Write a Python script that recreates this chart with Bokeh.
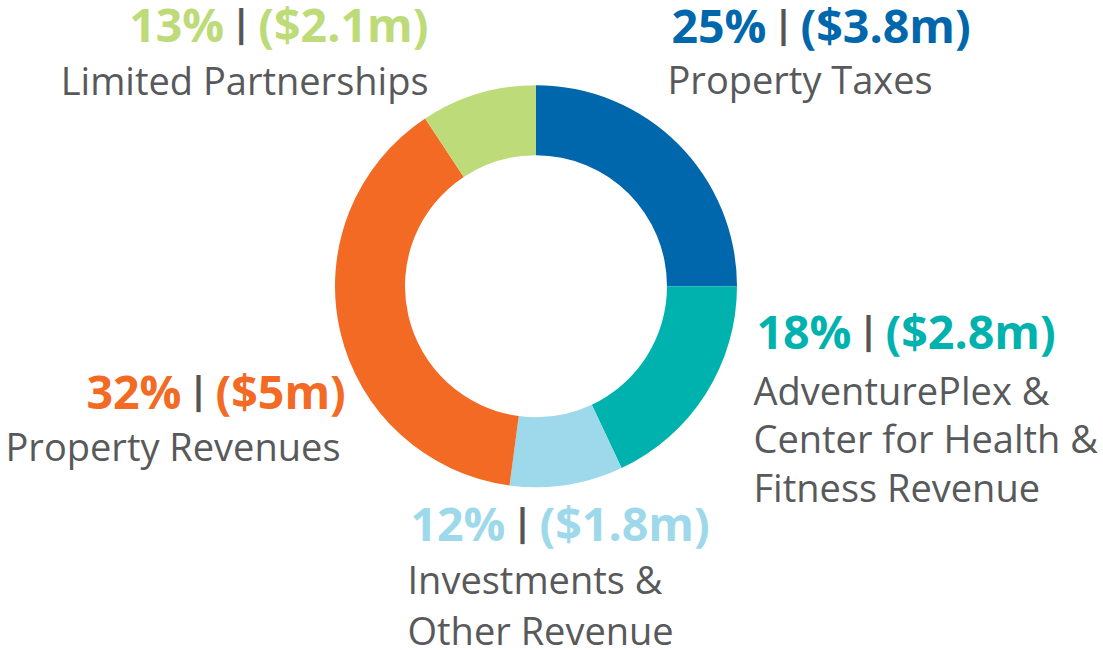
import math
from bokeh.plotting import figure
from bokeh.models import Range1d, ColumnDataSource
from bokeh.core.properties import value
from bokeh.embed import file_html
from bokeh.resources import INLINE

# ---- data ----
categories = ["Property Taxes", "AdventurePlex & Center for Health & Fitness Revenue",
              "Investments & Other Revenue", "Property Revenues", "Limited Partnerships"]
pct_labels = ["25%", "18%", "12%", "32%", "13%"]
amount_labels = ["($3.8m)", "($2.8m)", "($1.8m)", "($5m)", "($2.1m)"]
# share of the ring each slice occupies as drawn (percent)
slice_share = [25.0, 18.0, 9.1, 38.6, 9.3]
colors = ["#0067AC", "#00B2AE", "#9DD9EA", "#F26A23", "#BDDB78"]
name_lines = [["Property Taxes"],
              ["AdventurePlex &", "Center for Health &", "Fitness Revenue"],
              ["Investments &", "Other Revenue"],
              ["Property Revenues"],
              ["Limited Partnerships"]]

# ---- layout (pixel-style coordinates; y measured upward) ----
W, H = 1103, 650
def Y(y):
    return H - y

cx, cy = 535.5, Y(285.7)
r_out, r_in = 201, 131

total = sum(slice_share)
starts, ends = [], []
cum = 0.0
for s in slice_share:
    a0 = math.pi / 2 - 2 * math.pi * cum / total
    cum += s
    a1 = math.pi / 2 - 2 * math.pi * cum / total
    starts.append(a1)
    ends.append(a0)

src = ColumnDataSource(dict(x=[cx] * 5, y=[cy] * 5, start=starts, end=ends, color=colors,
                            cat=categories))

p = figure(width=W, height=H, output_backend="svg", toolbar_location=None,
           x_range=Range1d(0, W), y_range=Range1d(0, H),
           x_axis_type=None, y_axis_type=None, min_border=0)
p.grid.visible = False
p.outline_line_color = None
p.background_fill_color = "white"
p.border_fill_color = "white"

p.annular_wedge(x="x", y="y", inner_radius=r_in, outer_radius=r_out,
                start_angle="start", end_angle="end", direction="anticlock",
                fill_color="color", line_color=None, source=src)

# label placement: (bar x, bold centre y, name x, name align, first name centre y, line gap)
place = [
    (783, 24, 667, "left", 78, 48),
    (868, 330, 753, "left", 389, 48.5),
    (522, 522, 407, "left", 578, 51),
    (198, 390, 340, "right", 445, 48),
    (240.7, 23, 428, "right", 79, 48),
]
BOLD = 46.5
REG = 38
GRAY = "#58595B"
FONT = "Open Sans"
gap = 17
for i, (bx, by, nx, nal, ny, lg) in enumerate(place):
    p.text(x=[bx - gap], y=[Y(by)], text=[pct_labels[i]], text_align="right",
           text_baseline="middle", text_font=value(FONT), text_font_style="bold",
           text_font_size=f"{BOLD}px", text_color=colors[i])
    p.text(x=[bx], y=[Y(by - 2)], text=["|"], text_align="center",
           text_baseline="middle", text_font=value(FONT), text_font_style="bold",
           text_font_size="38px", text_color="#555555")
    p.text(x=[bx + gap], y=[Y(by)], text=[amount_labels[i]], text_align="left",
           text_baseline="middle", text_font=value(FONT), text_font_style="bold",
           text_font_size=f"{BOLD}px", text_color=colors[i])
    for j, line in enumerate(name_lines[i]):
        p.text(x=[nx], y=[Y(ny + j * lg)], text=[line], text_align=nal,
               text_baseline="middle", text_font=value(FONT),
               text_font_size=f"{REG}px", text_color=GRAY)

open("out.html", "w").write(file_html(p, INLINE))
